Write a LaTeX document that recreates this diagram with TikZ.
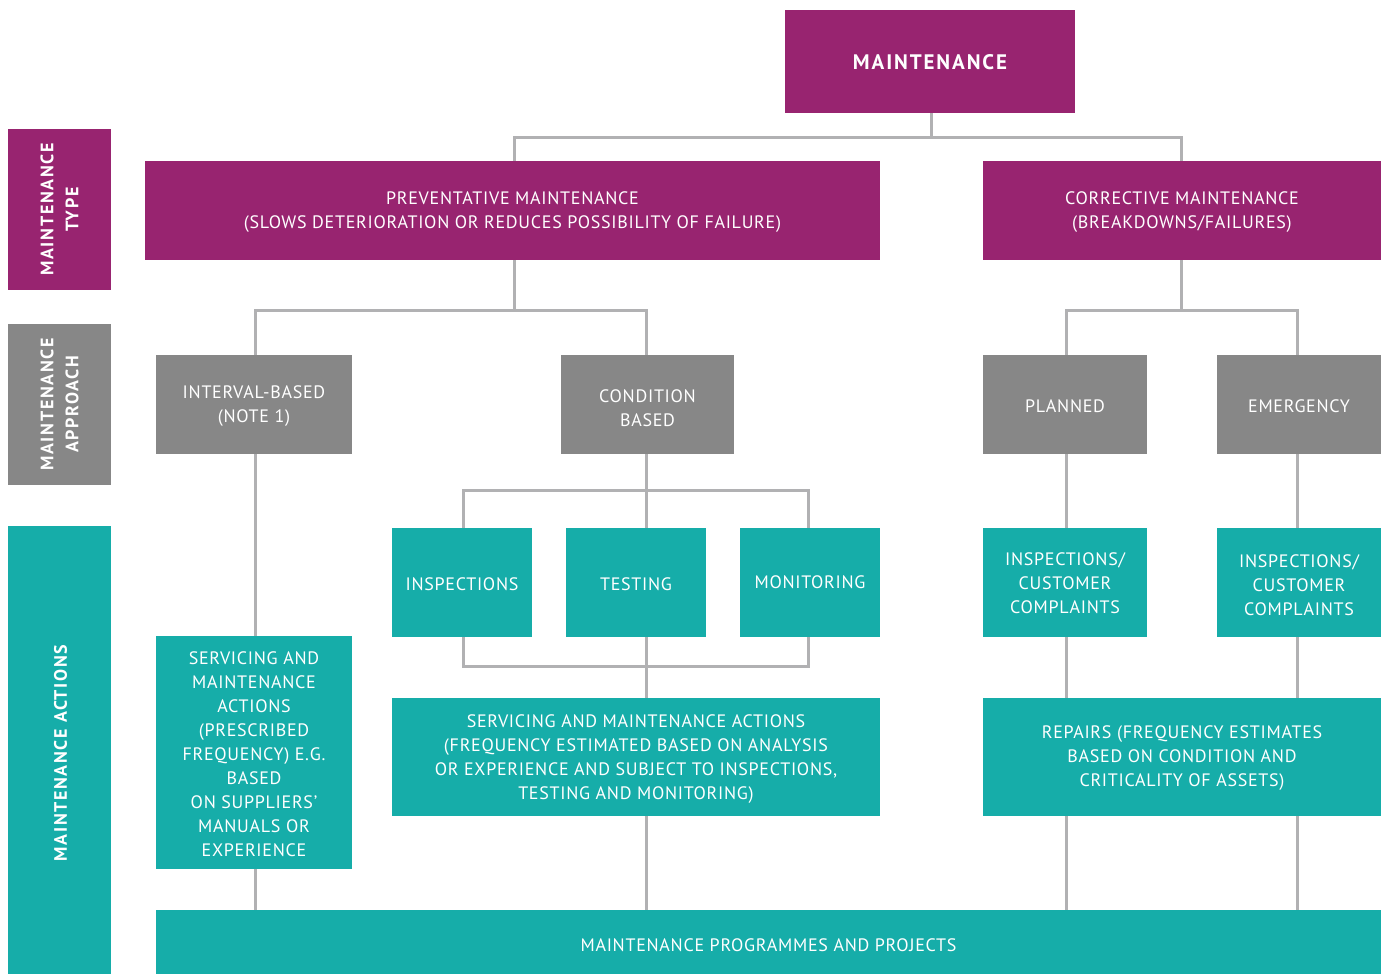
\documentclass[tikz,border=0pt]{standalone}
\usepackage{fontspec}
\setmainfont{PT Sans}[LetterSpace=4]
\newfontfamily\headfont{PT Sans}[LetterSpace=9]
\definecolor{mpurple}{RGB}{152,36,112}
\definecolor{mgray}{RGB}{135,135,135}
\definecolor{mteal}{RGB}{22,173,169}
\definecolor{mline}{RGB}{177,177,179}
\begin{document}
\begin{tikzpicture}[x=1pt,y=-1pt,
  box/.style={rectangle, inner sep=0pt},
  pbox/.style={box, fill=mpurple},
  gbox/.style={box, fill=mgray},
  tbox/.style={box, fill=mteal},
  txt/.style={inner sep=0pt, align=center, text=white,
    font=\fontsize{18}{24}\selectfont},
  sidetext/.style={rotate=90, align=center, text=white,
    font=\headfont\bfseries\fontsize{18}{25}\selectfont},
  link/.style={draw=mline, line width=3pt}]
\useasboundingbox (0,0) rectangle (1388,974);

% side labels
\node[pbox, minimum width=103pt, minimum height=161pt] (lt) at (59.5,209.5) {};
\node[sidetext] (ltx) at (lt) {MAINTENANCE\\TYPE};
\node[gbox, minimum width=103pt, minimum height=161pt] (la) at (59.5,404.5) {};
\node[sidetext] (lax) at (la) {MAINTENANCE\\APPROACH};
\node[tbox, minimum width=103pt, minimum height=448pt] (lac) at (59.5,750) {};
\node[sidetext] (lacx) at ([xshift=1pt,yshift=-3pt]lac) {MAINTENANCE ACTIONS};

% top
\node[pbox, minimum width=290pt, minimum height=103pt] (m) at (930,61.5) {};
\node[txt, font=\headfont\bfseries\fontsize{21}{24}\selectfont] (mt) at ([yshift=-1pt]m) {MAINTENANCE};

% maintenance type
\node[pbox, minimum width=735pt, minimum height=99pt] (prev) at (512.5,210.5) {};
\node[txt] (prevt) at ([yshift=-1.5pt]prev)
  {PREVENTATIVE MAINTENANCE\\(SLOWS DETERIORATION OR REDUCES POSSIBILITY OF FAILURE)};
\node[pbox, minimum width=398pt, minimum height=99pt] (corr) at (1182,210.5) {};
\node[txt] (corrt) at ([yshift=-1.5pt]corr) {CORRECTIVE MAINTENANCE\\(BREAKDOWNS/FAILURES)};

% maintenance approach
\node[gbox, minimum width=196pt, minimum height=99pt] (ib) at (254,404.5) {};
\node[txt] (ibt) at ([yshift=-2pt]ib) {INTERVAL-BASED\\(NOTE 1)};
\node[gbox, minimum width=173pt, minimum height=99pt] (cb) at (647.5,404.5) {};
\node[txt] (cbt) at ([yshift=-4pt]cb) {CONDITION\\BASED};
\node[gbox, minimum width=164pt, minimum height=99pt] (pl) at (1065,404.5) {};
\node[txt] (plt) at ([yshift=-1.5pt]pl) {PLANNED};
\node[gbox, minimum width=164pt, minimum height=99pt] (em) at (1299,404.5) {};
\node[txt] (emt) at ([yshift=-1.5pt]em) {EMERGENCY};

% maintenance actions
\node[tbox, minimum width=140pt, minimum height=109pt] (insp) at (462,582.5) {};
\node[txt] (inspt) at ([yshift=-1.5pt]insp) {INSPECTIONS};
\node[tbox, minimum width=140pt, minimum height=109pt] (test) at (636,582.5) {};
\node[txt] (testt) at ([yshift=-1.5pt]test) {TESTING};
\node[tbox, minimum width=140pt, minimum height=109pt] (mon) at (810,582.5) {};
\node[txt] (mont) at ([yshift=0pt]mon) {MONITORING};
\node[tbox, minimum width=164pt, minimum height=109pt] (ic1) at (1065,582.5) {};
\node[txt] (ic1t) at ([yshift=-0.5pt]ic1) {INSPECTIONS/\\CUSTOMER\\COMPLAINTS};
\node[tbox, minimum width=164pt, minimum height=109pt] (ic2) at (1299,582.5) {};
\node[txt] (ic2t) at ([yshift=-2.5pt]ic2) {INSPECTIONS/\\CUSTOMER\\COMPLAINTS};
\node[tbox, minimum width=196pt, minimum height=233pt] (sv1) at (254,752.5) {};
\node[txt] (sv1t) at ([yshift=-2pt]sv1)
  {SERVICING AND\\MAINTENANCE\\ACTIONS\\(PRESCRIBED\\FREQUENCY) E.G.\\BASED\\ON SUPPLIERS’\\MANUALS OR\\EXPERIENCE};
\node[tbox, minimum width=488pt, minimum height=118pt] (sv2) at (636,757) {};
\node[txt] (sv2t) at ([yshift=-2pt]sv2)
  {SERVICING AND MAINTENANCE ACTIONS\\(FREQUENCY ESTIMATED BASED ON ANALYSIS\\OR EXPERIENCE AND SUBJECT TO INSPECTIONS,\\TESTING AND MONITORING)};
\node[tbox, minimum width=398pt, minimum height=118pt] (rep) at (1182,757) {};
\node[txt] (rept) at ([yshift=-1pt]rep)
  {REPAIRS (FREQUENCY ESTIMATES\\BASED ON CONDITION AND\\CRITICALITY OF ASSETS)};
\node[tbox, minimum width=1225pt, minimum height=64pt] (prog) at (768.5,942) {};
\node[txt] (progt) at ([yshift=-3pt]prog) {MAINTENANCE PROGRAMMES AND PROJECTS};

% junction points
\coordinate (j0) at (931,137);
\coordinate (j1) at (514,310);
\coordinate (j2) at (1181,310);
\coordinate (j3) at (646.5,490);
\coordinate (j4) at (646.5,666);

% connectors
\draw[link] (m.south -| j0) -- (j0);
\draw[link] (j1 |- prev.north) |- (j0) -| (j2 |- corr.north);
\draw[link] (j1 |- prev.south) -- (j1);
\draw[link] ([xshift=1pt]ib.north) |- (j1) -| (j3 |- cb.north);
\draw[link] (j2 |- corr.south) -- (j2);
\draw[link] ([xshift=1pt]pl.north) |- (j2) -| ([xshift=-2pt]em.north);

\draw[link] (cb.south -| j3) -- (j3);
\draw[link] ([xshift=1pt]insp.north) |- (j3) -| ([xshift=-2pt]mon.north);
\draw[link] (j3) -- (j3 |- test.north);
\draw[link] ([xshift=1pt]insp.south) |- (j4) -| ([xshift=-2pt]mon.south);
\draw[link] (j4 |- test.south) -- (j4) -- (j4 |- sv2.north);
\draw[link] (j4 |- sv2.south) -- (j4 |- prog.north);

\draw[link] ([xshift=1pt]ib.south) -- ([xshift=1pt]sv1.north);
\draw[link] ([xshift=1pt]sv1.south) -- ([xshift=1pt]sv1.south |- prog.north);

\draw[link] ([xshift=1pt]pl.south) -- ([xshift=1pt]ic1.north);
\draw[link] ([xshift=1pt]ic1.south) -- ([xshift=1pt]ic1.south |- rep.north);
\draw[link] ([xshift=1pt]ic1.south |- rep.south) -- ([xshift=1pt]ic1.south |- prog.north);
\draw[link] ([xshift=-2pt]em.south) -- ([xshift=-2pt]ic2.north);
\draw[link] ([xshift=-2pt]ic2.south) -- ([xshift=-2pt]ic2.south |- rep.north);
\draw[link] ([xshift=-2pt]ic2.south |- rep.south) -- ([xshift=-2pt]ic2.south |- prog.north);
\end{tikzpicture}
\end{document}
